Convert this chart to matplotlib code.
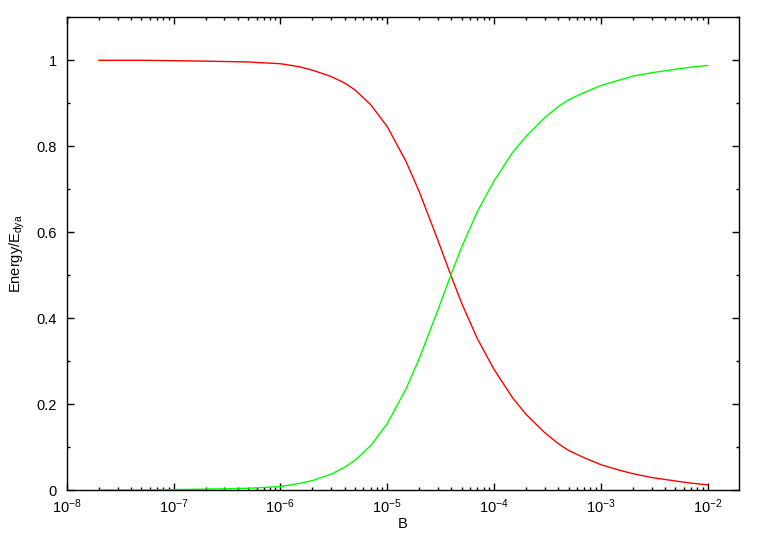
import matplotlib
matplotlib.use("Agg")
import matplotlib.pyplot as plt
from matplotlib.ticker import FixedLocator, MultipleLocator, LogFormatterMathtext, FormatStrFormatter, NullFormatter

plt.rcParams['font.family'] = ['Liberation Sans', 'DejaVu Sans']
plt.rcParams['mathtext.fontset'] = 'custom'
plt.rcParams['mathtext.rm'] = 'Liberation Sans'
plt.rcParams['mathtext.it'] = 'Liberation Sans:italic'
plt.rcParams['mathtext.bf'] = 'Liberation Sans:bold'

# Data
B = [2e-8, 5e-8, 1e-7, 2e-7, 5e-7,
     1e-6, 1.5e-6, 2e-6, 3e-6, 4e-6, 5e-6, 7e-6,
     1e-5, 1.5e-5, 2e-5, 3e-5, 4e-5, 5e-5, 7e-5,
     1e-4, 1.5e-4, 2e-4, 3e-4, 4e-4, 5e-4, 7e-4,
     1e-3, 1.5e-3, 2e-3, 3e-3, 5e-3, 7e-3, 1e-2]
red_vals = [1.000, 1.000, 0.999, 0.998, 0.996,
            0.992, 0.985, 0.977, 0.962, 0.947, 0.931, 0.897,
            0.846, 0.765, 0.694, 0.580, 0.496, 0.434, 0.352,
            0.281, 0.214, 0.176, 0.133, 0.108, 0.092, 0.075,
            0.059, 0.046, 0.038, 0.029, 0.021, 0.016, 0.012]
green_vals = [0.000, 0.000, 0.001, 0.002, 0.004,
              0.008, 0.015, 0.022, 0.037, 0.053, 0.069, 0.103,
              0.154, 0.235, 0.306, 0.420, 0.504, 0.566, 0.648,
              0.719, 0.786, 0.823, 0.867, 0.892, 0.908, 0.925,
              0.941, 0.954, 0.963, 0.971, 0.979, 0.984, 0.988]
x_major = [1e-8, 1e-7, 1e-6, 1e-5, 1e-4, 1e-3, 1e-2]
x_minor = [m * d for d in [1e-8, 1e-7, 1e-6, 1e-5, 1e-4, 1e-3] for m in range(2, 10)] + [2e-2 * 0.95]

fig = plt.figure(figsize=(7.65, 5.35), dpi=100)
ax = fig.add_axes([66.7/765, 1-490/535, (739-66.7)/765, (490-17.3)/535])

ax.plot(B, red_vals, color='#ff0000', lw=1.0)
ax.plot(B, green_vals, color='#00ff00', lw=1.0)

ax.set_xscale('log')
ax.set_xlim(1e-8, 1.97e-2)
ax.set_ylim(0, 1.1)

ax.xaxis.set_major_locator(FixedLocator(x_major))
ax.xaxis.set_minor_locator(FixedLocator(x_minor[:-1]))
ax.xaxis.set_major_formatter(LogFormatterMathtext())
ax.xaxis.set_minor_formatter(NullFormatter())
ax.yaxis.set_major_locator(MultipleLocator(0.2))
ax.yaxis.set_minor_locator(MultipleLocator(0.1))
ax.yaxis.set_major_formatter(FormatStrFormatter('%g'))

ax.tick_params(which='both', direction='in', top=True, right=True, width=1.0, color='black')
ax.tick_params(which='major', length=5)
ax.tick_params(which='minor', length=2.5)
ax.tick_params(axis='x', which='major', pad=5, labelsize=10.5)
ax.tick_params(axis='y', which='major', pad=7, labelsize=10.5)

for s in ax.spines.values():
    s.set_linewidth(1.0)

ax.set_xlabel('B', fontsize=10.5, labelpad=1)
ax.set_ylabel(r'Energy/E$_{\mathrm{dya}}$', fontsize=10.5, labelpad=7)

fig.savefig('out.png', dpi=100)
